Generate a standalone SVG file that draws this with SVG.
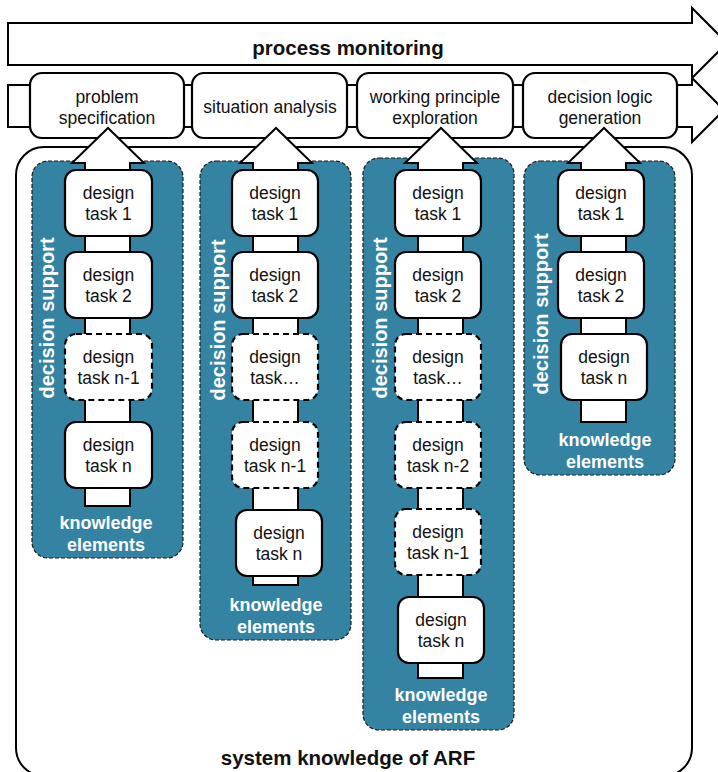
<svg xmlns="http://www.w3.org/2000/svg" width="718" height="772" viewBox="0 0 718 772">
<style>
.ln{fill:#fff;stroke:#000;stroke-width:2;stroke-linejoin:miter}
.box{fill:#fff;stroke:#000;stroke-width:2.2}
.dash{stroke-dasharray:6 4}
.panel{fill:#3483a3;stroke:#1c1c1c;stroke-width:1.2;stroke-dasharray:4 2}
.t{font-family:"Liberation Sans",Arial,sans-serif;font-size:17.5px;fill:#111;text-anchor:middle}
.b{font-weight:bold}
.big{font-size:20.5px}
.w{fill:#fff}
.ke{font-size:18px}
.ds{font-size:20px}
</style>
<rect width="718" height="772" fill="#fff"/>

<g id="system-knowledge">
<rect x="16" y="147" width="676" height="629" rx="28" ry="28" fill="#fff" stroke="#000" stroke-width="2"/>
<text class="t b big" x="348" y="765">system knowledge of ARF</text>
</g>

<g id="panel-1"><rect class="panel" x="32" y="161" width="151" height="397" rx="16"/></g>
<g id="panel-2"><rect class="panel" x="200" y="161" width="151" height="479" rx="16"/></g>
<g id="panel-3"><rect class="panel" x="363" y="158" width="151" height="572" rx="16"/></g>
<g id="panel-4"><rect class="panel" x="524" y="161" width="151" height="314" rx="16"/></g>

<g id="process-monitoring">
<polygon class="ln" points="8,23 692,23 692,8 727,43 692,78 692,65 8,65"/>
<text class="t b big" x="348" y="55">process monitoring</text>
</g>

<g id="process-chain">
<polygon class="ln" points="8,85 692,85 692,78 724,110 692,142 692,127 8,127"/>
</g>

<g id="problem-specification">
<rect class="box" x="30" y="73" width="154" height="65" rx="12"/>
<text class="t" x="107" y="103">problem</text>
<text class="t" x="107" y="124">specification</text>
</g>
<g id="situation-analysis">
<rect class="box" x="192" y="73" width="155" height="65" rx="12"/>
<text class="t" x="270" y="113">situation analysis</text>
</g>
<g id="working-principle-exploration">
<rect class="box" x="357" y="73" width="156" height="65" rx="12"/>
<text class="t" x="435" y="103">working principle</text>
<text class="t" x="435" y="124">exploration</text>
</g>
<g id="decision-logic-generation">
<rect class="box" x="523" y="73" width="154" height="65" rx="12"/>
<text class="t" x="600" y="103">decision logic</text>
<text class="t" x="600" y="124">generation</text>
</g>

<g id="connectors">
<polygon class="ln" points="85,506 85,163 72,163 108,128 144,163 130,163 130,506"/>
<polygon class="ln" points="253,585 253,163 240,163 276,128 312,163 298,163 298,585"/>
<polygon class="ln" points="418,678 418,163 405,163 441,128 477,163 463,163 463,678"/>
<polygon class="ln" points="581,422 581,163 568,163 604,128 640,163 626,163 626,422"/>
</g>

<g id="p1-task-1"><rect class="box" x="65" y="170" width="87" height="66" rx="11"/><text class="t" x="108.5" y="199">design</text><text class="t" x="108.5" y="220">task 1</text></g>
<g id="p1-task-2"><rect class="box" x="65" y="252" width="87" height="66" rx="11"/><text class="t" x="108.5" y="281">design</text><text class="t" x="108.5" y="302">task 2</text></g>
<g id="p1-task-n-1"><rect class="box dash" x="65" y="334" width="87" height="66" rx="11"/><text class="t" x="108.5" y="363">design</text><text class="t" x="108.5" y="384">task n-1</text></g>
<g id="p1-task-n"><rect class="box" x="65" y="422" width="87" height="66" rx="11"/><text class="t" x="108.5" y="451">design</text><text class="t" x="108.5" y="472">task n</text></g>
<g id="p1-labels">
<text class="t b w ds" transform="translate(54,318) rotate(-90)">decision support</text>
<text class="t b w ke" x="106" y="529">knowledge</text>
<text class="t b w ke" x="106" y="551">elements</text>
</g>

<g id="p2-task-1"><rect class="box" x="232" y="170" width="86" height="66" rx="11"/><text class="t" x="275" y="199">design</text><text class="t" x="275" y="220">task 1</text></g>
<g id="p2-task-2"><rect class="box" x="232" y="252" width="86" height="66" rx="11"/><text class="t" x="275" y="281">design</text><text class="t" x="275" y="302">task 2</text></g>
<g id="p2-task-dots"><rect class="box dash" x="232" y="334" width="86" height="66" rx="11"/><text class="t" x="275" y="363">design</text><text class="t" x="275" y="384">task…</text></g>
<g id="p2-task-n-1"><rect class="box dash" x="232" y="422" width="86" height="66" rx="11"/><text class="t" x="275" y="451">design</text><text class="t" x="275" y="472">task n-1</text></g>
<g id="p2-task-n"><rect class="box" x="236" y="510" width="86" height="66" rx="11"/><text class="t" x="279" y="539">design</text><text class="t" x="279" y="560">task n</text></g>
<g id="p2-labels">
<text class="t b w ds" transform="translate(225,320) rotate(-90)">decision support</text>
<text class="t b w ke" x="276" y="611">knowledge</text>
<text class="t b w ke" x="276" y="633">elements</text>
</g>

<g id="p3-task-1"><rect class="box" x="395" y="170" width="86" height="66" rx="11"/><text class="t" x="438" y="199">design</text><text class="t" x="438" y="220">task 1</text></g>
<g id="p3-task-2"><rect class="box" x="395" y="252" width="86" height="66" rx="11"/><text class="t" x="438" y="281">design</text><text class="t" x="438" y="302">task 2</text></g>
<g id="p3-task-dots"><rect class="box dash" x="395" y="334" width="86" height="66" rx="11"/><text class="t" x="438" y="363">design</text><text class="t" x="438" y="384">task…</text></g>
<g id="p3-task-n-2"><rect class="box dash" x="395" y="422" width="86" height="66" rx="11"/><text class="t" x="438" y="451">design</text><text class="t" x="438" y="472">task n-2</text></g>
<g id="p3-task-n-1"><rect class="box dash" x="395" y="509" width="86" height="66" rx="11"/><text class="t" x="438" y="538">design</text><text class="t" x="438" y="559">task n-1</text></g>
<g id="p3-task-n"><rect class="box" x="398" y="597" width="86" height="66" rx="11"/><text class="t" x="441" y="626">design</text><text class="t" x="441" y="647">task n</text></g>
<g id="p3-labels">
<text class="t b w ds" transform="translate(387,318) rotate(-90)">decision support</text>
<text class="t b w ke" x="441" y="701">knowledge</text>
<text class="t b w ke" x="441" y="723">elements</text>
</g>

<g id="p4-task-1"><rect class="box" x="558" y="170" width="86" height="66" rx="11"/><text class="t" x="601" y="199">design</text><text class="t" x="601" y="220">task 1</text></g>
<g id="p4-task-2"><rect class="box" x="558" y="252" width="86" height="66" rx="11"/><text class="t" x="601" y="281">design</text><text class="t" x="601" y="302">task 2</text></g>
<g id="p4-task-n"><rect class="box" x="561" y="334" width="86" height="66" rx="11"/><text class="t" x="604" y="363">design</text><text class="t" x="604" y="384">task n</text></g>
<g id="p4-labels">
<text class="t b w ds" transform="translate(548,314) rotate(-90)">decision support</text>
<text class="t b w ke" x="605" y="446">knowledge</text>
<text class="t b w ke" x="605" y="468">elements</text>
</g>
</svg>
